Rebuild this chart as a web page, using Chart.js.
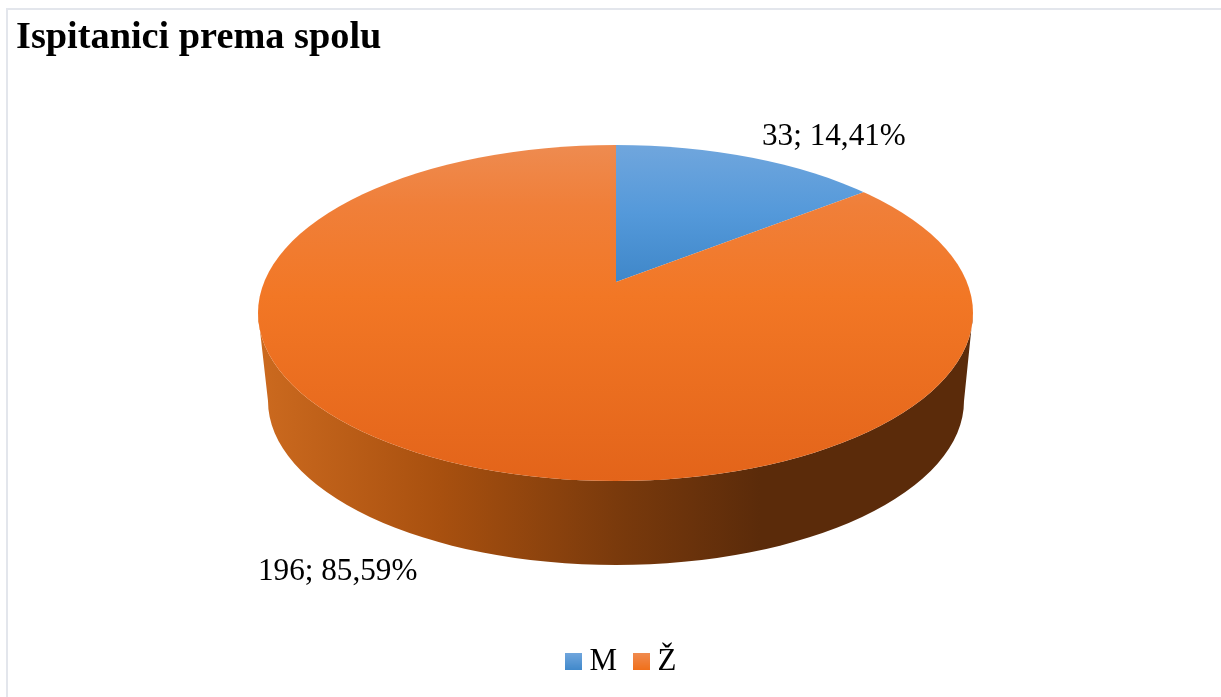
<!DOCTYPE html>
<html><head><meta charset="utf-8">
<style>
html,body{margin:0;padding:0;background:#fff;overflow:hidden;width:1221px;height:697px}
#frame{position:absolute;left:6px;top:8px;width:1400px;height:900px;border:2px solid #e3e6ec;box-sizing:border-box}
#wrap{position:absolute;left:0;top:0;width:1221px;height:697px}
</style></head><body>
<div id="frame"></div>
<div id="wrap"><canvas id="c" width="1221" height="697"></canvas></div>
<script src="https://cdn.jsdelivr.net/npm/chart.js@4"></script>
<script>
const titleText = 'Ispitanici prema spolu';
const categories = ['M', 'Ž'];
const counts = [33, 196];
const percents = ['14,41%', '85,59%'];
const FONT = '"Liberation Serif", "Times New Roman", serif';

// perspective look of the disc: the top face ellipse, its apparent pie centre, and the rim
const face = {cx: 615.5, cy: 313, rx: 357.5, ry: 168};
const rim  = {cx: 616, cy: 401, rx: 348, ry: 164};
const hub  = {x: 616, y: 282, sx: 562, sy: 260};
const faceStops = [
  [['0', '#70a6dd'], ['0.5', '#5499da'], ['1', '#3f87c9']],
  [['0', '#ee8b50'], ['0.18', '#f07f39'], ['0.45', '#f27725'], ['1', '#e3641a']]
];
const faceSpans = [[145, 282], [145, 481]];
const legendStops = [
  [['0', '#70a6dd'], ['1', '#4189cb']],
  [['0', '#f08b4f'], ['1', '#f0701b']]
];
const sideStops = [[258,'#cc6a1f'],[440,'#a8500f'],[616,'#7a3a0c'],[760,'#5b2b0a'],[973,'#5b2b0a']];
const labelSpots = [[762, 145], [258, 580]];

function grad(ctx, y0, y1, stops){
  const g = ctx.createLinearGradient(0, y0, 0, y1);
  stops.forEach(s => g.addColorStop(+s[0], s[1]));
  return g;
}
function legendSwatch(stops){
  const cv = document.createElement('canvas');
  cv.width = 17; cv.height = 17;
  const x = cv.getContext('2d');
  x.fillStyle = grad(x, 0, 17, stops);
  x.fillRect(0, 0, 17, 17);
  return cv;
}
const swatches = legendStops.map(legendSwatch);

function arcGeom(chart){
  const a = chart.chartArea;
  return {x:(a.left+a.right)/2, y:(a.top+a.bottom)/2, r:Math.min(a.right-a.left,a.bottom-a.top)/2};
}
function sliceFill(c){
  const chart = c.chart, i = c.dataIndex;
  if(!chart.chartArea) return faceStops[i][0][1];
  const g = arcGeom(chart);
  const toUser = d => g.y + (d - hub.y) * g.r / hub.sy;
  return grad(chart.ctx, toUser(faceSpans[i][0]), toUser(faceSpans[i][1]), faceStops[i]);
}

const discPlugin = {
  id: 'disc',
  afterLayout(chart){
    chart.legend.left += 6; chart.legend.right += 6;
  },
  beforeDatasetsDraw(chart){
    const ctx = chart.ctx;
    // side wall
    ctx.save();
    ctx.beginPath();
    ctx.ellipse(face.cx, face.cy, face.rx, face.ry, 0, 0, Math.PI);
    ctx.lineTo(rim.cx - rim.rx, rim.cy);
    ctx.ellipse(rim.cx, rim.cy, rim.rx, rim.ry, 0, Math.PI, 0, true);
    ctx.closePath();
    const g = ctx.createLinearGradient(258, 0, 973, 0);
    sideStops.forEach(s => g.addColorStop((s[0]-258)/(973-258), s[1]));
    ctx.fillStyle = g;
    ctx.fill();
    ctx.restore();
    // top face: slices drawn by the library, clipped to the ellipse
    const m = arcGeom(chart);
    ctx.save();
    ctx.beginPath();
    ctx.ellipse(face.cx, face.cy, face.rx, face.ry, 0, 0, Math.PI*2);
    ctx.clip();
    ctx.translate(hub.x, hub.y);
    ctx.scale(hub.sx/m.r, hub.sy/m.r);
    ctx.translate(-m.x, -m.y);
  },
  afterDatasetsDraw(chart){
    const ctx = chart.ctx;
    ctx.restore();
    ctx.save();
    ctx.fillStyle = '#000';
    ctx.font = '31.2px ' + FONT;
    ctx.textBaseline = 'alphabetic';
    counts.forEach((v,i) => ctx.fillText(v + '; ' + percents[i], labelSpots[i][0], labelSpots[i][1]));
    ctx.restore();
  }
};

new Chart(document.getElementById('c'), {
  type: 'pie',
  data: {labels: categories, datasets: [{data: counts, backgroundColor: sliceFill, borderWidth: 0, hoverOffset: 0, clip: false}]},
  plugins: [discPlugin],
  options: {
    responsive: false,
    animation: false,
    layout: {padding: {left: 16, right: 0, top: 0, bottom: 10}},
    plugins: {
      tooltip: {enabled: false},
      title: {display: true, text: titleText, align: 'start', color: '#000',
        font: {family: FONT, size: 38.3, weight: 'bold'}, padding: {top: 15, bottom: 10}},
      legend: {position: 'bottom', align: 'center',
        labels: {
          color: '#000', usePointStyle: true, boxWidth: 1.5, boxHeight: 17, padding: 23.4,
          font: {family: FONT, size: 31},
          generateLabels(){
            return categories.map((t,i) => ({
              text: t, index: i, lineWidth: 0, strokeStyle: 'transparent',
              fillStyle: legendStops[i][1][1], pointStyle: swatches[i]
            }));
          }
        }
      }
    }
  }
});
</script>
</body></html>
